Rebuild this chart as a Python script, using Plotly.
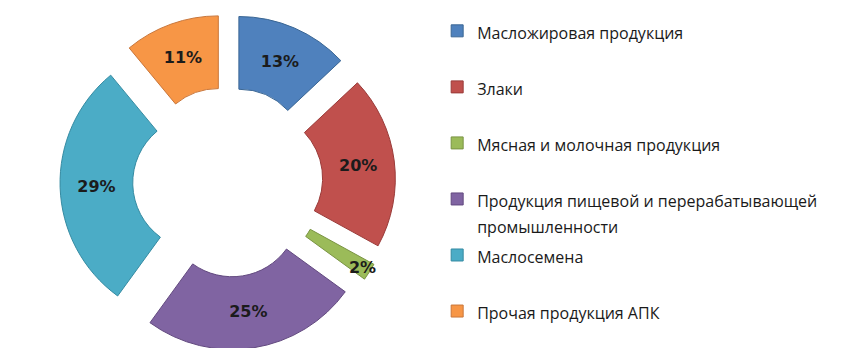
import plotly.graph_objects as go

# shares of agro exports, %
categories = [
    "Масложировая продукция",
    "Злаки",
    "Мясная и молочная продукция",
    "Продукция пищевой и перерабатывающей<br>промышленности",
    "Маслосемена",
    "Прочая продукция АПК",
]
shares = [13, 20, 2, 25, 29, 11]

colors = ["#4F81BD", "#C0504D", "#9BBB59", "#8064A2", "#4BACC6", "#F79646"]
edges = ["#3A6694", "#9A3B39", "#7A9444", "#62497F", "#358BA2", "#C9763A"]

# pad legend entries to two lines so the items sit far apart like the original
legend_labels = []
for i, c in enumerate(categories):
    lines = c.split("<br>")
    if i < len(categories) - 1:
        lines += ["&nbsp;"] * (2 - len(lines))
    legend_labels.append("<br>".join(
        f"<span style='font-size:16px'>{ln}</span>" for ln in lines))

fig = go.Figure()

fig.add_trace(go.Pie(
    labels=legend_labels,
    values=shares,
    sort=False,
    direction="clockwise",
    rotation=0,
    hole=0.48,
    pull=[0.2] * len(shares),
    marker=dict(colors=colors, line=dict(color=edges, width=1)),
    texttemplate="%{value}%",
    textposition="inside",
    insidetextorientation="horizontal",
    insidetextfont=dict(family="DejaVu Sans", size=16, color="#1b1b1b", weight="bold"),
    hoverinfo="skip",
    domain=dict(x=[0.060, 0.447], y=[0, 0.9825]),
))

fig.update_layout(
    width=867, height=348,
    margin=dict(l=0, r=0, t=0, b=6),
    paper_bgcolor="white", plot_bgcolor="white",
    uniformtext=dict(minsize=16, mode="show"),
    legend=dict(
        x=0.495, y=0.991, xanchor="left", yanchor="top",
        valign="top",
        font=dict(family="Open Sans", size=20.4, color="#1a1a1a"),
        bgcolor="rgba(0,0,0,0)",
        itemclick=False,
    ),
)

fig.write_html("out.html")
